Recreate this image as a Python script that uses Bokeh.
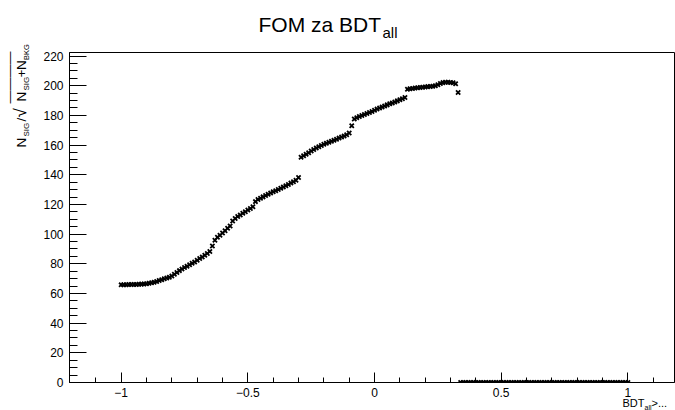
import math
from bokeh.plotting import figure
from bokeh.models import Range1d, FixedTicker, Label
from bokeh.layouts import column
from bokeh.embed import file_html
from bokeh.resources import INLINE

# ---- data: FOM scan over BDT_all cut ----
cut_nonzero = [
    -1.00, -0.99, -0.98, -0.97, -0.96, -0.95, -0.94, -0.93, -0.92, -0.91,
    -0.90, -0.89, -0.88, -0.87, -0.86, -0.85, -0.84, -0.83, -0.82, -0.81,
    -0.80, -0.79, -0.78, -0.77, -0.76, -0.75, -0.74, -0.73, -0.72, -0.71,
    -0.70, -0.69, -0.68, -0.67, -0.66, -0.65, -0.64, -0.63, -0.62, -0.61,
    -0.60, -0.59, -0.58, -0.57, -0.56, -0.55, -0.54, -0.53, -0.52, -0.51,
    -0.50, -0.49, -0.48, -0.47, -0.46, -0.45, -0.44, -0.43, -0.42, -0.41,
    -0.40, -0.39, -0.38, -0.37, -0.36, -0.35, -0.34, -0.33, -0.32, -0.31,
    -0.30, -0.29, -0.28, -0.27, -0.26, -0.25, -0.24, -0.23, -0.22, -0.21,
    -0.20, -0.19, -0.18, -0.17, -0.16, -0.15, -0.14, -0.13, -0.12, -0.11,
    -0.10, -0.09, -0.08, -0.07, -0.06, -0.05, -0.04, -0.03, -0.02, -0.01,
    0.00, 0.01, 0.02, 0.03, 0.04, 0.05, 0.06, 0.07, 0.08, 0.09,
    0.10, 0.11, 0.12, 0.13, 0.14, 0.15, 0.16, 0.17, 0.18, 0.19,
    0.20, 0.21, 0.22, 0.23, 0.24, 0.25, 0.26, 0.27, 0.28, 0.29,
    0.30, 0.31, 0.32, 0.33,
]
fom_nonzero = [
    65.8, 65.9, 65.9, 66.0, 66.0, 66.1, 66.1, 66.2, 66.3, 66.4,
    66.6, 66.9, 67.2, 67.6, 68.1, 68.7, 69.3, 69.9, 70.4, 71.0,
    71.8, 72.9, 74.2, 75.4, 76.5, 77.5, 78.4, 79.3, 80.3, 81.2,
    82.4, 83.5, 84.6, 85.8, 87.0, 88.3, 92.0, 95.8, 97.9, 99.3,
    100.8, 102.3, 103.9, 105.5, 108.8, 110.6, 111.8, 112.9, 114.0, 115.1,
    116.2, 117.3, 118.5, 121.9, 123.3, 124.2, 125.1, 126.0, 126.9, 127.7,
    128.5, 129.3, 130.1, 130.9, 131.7, 132.6, 133.5, 134.4, 135.3, 136.3,
    138.2, 151.8, 152.8, 153.8, 154.9, 156.0, 157.0, 158.0, 158.9, 159.7,
    160.5, 161.2, 161.9, 162.6, 163.3, 164.0, 164.7, 165.4, 166.2, 167.0,
    168.2, 173.0, 177.6, 178.5, 179.2, 179.9, 180.6, 181.3, 182.0, 182.7,
    183.5, 184.3, 185.0, 185.7, 186.4, 187.1, 187.8, 188.4, 189.1, 189.8,
    190.5, 191.2, 192.0, 197.6, 197.9, 198.2, 198.4, 198.6, 198.8, 199.0,
    199.2, 199.4, 199.5, 199.7, 200.0, 200.6, 201.5, 202.1, 202.3, 202.4,
    202.2, 202.0, 201.4, 195.4,
]
cut_zero = [
    0.34, 0.35, 0.36, 0.37, 0.38, 0.39, 0.40, 0.41, 0.42, 0.43,
    0.44, 0.45, 0.46, 0.47, 0.48, 0.49, 0.50, 0.51, 0.52, 0.53,
    0.54, 0.55, 0.56, 0.57, 0.58, 0.59, 0.60, 0.61, 0.62, 0.63,
    0.64, 0.65, 0.66, 0.67, 0.68, 0.69, 0.70, 0.71, 0.72, 0.73,
    0.74, 0.75, 0.76, 0.77, 0.78, 0.79, 0.80, 0.81, 0.82, 0.83,
    0.84, 0.85, 0.86, 0.87, 0.88, 0.89, 0.90, 0.91, 0.92, 0.93,
    0.94, 0.95, 0.96, 0.97, 0.98, 0.99, 1.00,
]
fom_zero = [0.0] * len(cut_zero)

x_major = [-1.0, -0.5, 0.0, 0.5, 1.0]
x_major_labels = ["\u22121", "\u22120.5", "0", "0.5", "1"]
x_minor = [-1.1, -0.9, -0.8, -0.7, -0.6, -0.4, -0.3, -0.2, -0.1,
           0.1, 0.2, 0.3, 0.4, 0.6, 0.7, 0.8, 0.9, 1.1]
y_major = [0, 20, 40, 60, 80, 100, 120, 140, 160, 180, 200, 220]
y_minor = [5, 10, 15, 25, 30, 35, 45, 50, 55, 65, 70, 75, 85, 90, 95,
           105, 110, 115, 125, 130, 135, 145, 150, 155, 165, 170, 175,
           185, 190, 195, 205, 210, 215]

# ---- layout (pixels of the 675x410 page) ----
W, H = 675, 410
FL, FR, FT, FB = 69, 674, 52, 382
X0, X1 = -1.204, 1.184
Y0, Y1 = 0.0, 222.4
FONT = "Liberation Sans"
MID = 0.35   # baseline -> vertical text middle, in em

# main plot
p = figure(width=W, height=H, output_backend="svg", toolbar_location=None,
           x_range=Range1d(X0, X1), y_range=Range1d(Y0, Y1),
           min_border_left=FL, min_border_right=W - FR,
           min_border_top=FT, min_border_bottom=H - FB, title=None)
p.background_fill_color = "white"
p.border_fill_color = "white"
p.outline_line_color = "black"
p.outline_line_width = 1
p.grid.visible = False

p.xaxis.ticker = FixedTicker(ticks=x_major, minor_ticks=x_minor)
p.xaxis.major_label_overrides = {t: s for t, s in zip(x_major, x_major_labels)}
p.yaxis.ticker = FixedTicker(ticks=y_major, minor_ticks=y_minor)
p.yaxis.major_label_overrides = {t: str(t) for t in y_major}

for ax in (p.xaxis, p.yaxis):
    ax.axis_line_color = "black"
    ax.major_tick_line_color = "black"
    ax.minor_tick_line_color = "black"
    ax.major_tick_out = 0
    ax.minor_tick_out = 0
    ax.major_label_text_font = FONT
    ax.major_label_text_font_size = "12px"
    ax.major_label_text_color = "black"
p.xaxis.major_tick_in = 10
p.xaxis.minor_tick_in = 5
p.yaxis.major_tick_in = 17
p.yaxis.minor_tick_in = 8
p.xaxis.major_label_standoff = 5
p.yaxis.major_label_standoff = 6

p.scatter(cut_nonzero, fom_nonzero, marker="x", size=6, line_width=1.8,
          line_color="black")
p.scatter(cut_zero, fom_zero, marker="x", size=6, line_width=1.8,
          line_color="black")

# transparent overlay holding the composite texts (page pixel coordinates)
ov = figure(width=W, height=H, output_backend="svg", toolbar_location=None,
            x_range=Range1d(0, W), y_range=Range1d(H, 0), min_border=0,
            x_axis_location=None, y_axis_location=None, title=None)
ov.outline_line_color = None
ov.grid.visible = False
ov.background_fill_color = None
ov.border_fill_color = None


def lab(text, px, py, size):
    """horizontal text; (px, py) = start of the baseline"""
    ov.add_layout(Label(x=px, y=py - MID * size, text=text, text_font=FONT,
                        text_font_size=f"{size}px", text_color="black",
                        text_align="left", text_baseline="middle"))


def vlab(text, bx, py, size):
    """text rotated 90 deg; baseline at x = bx, starting at y = py"""
    ov.add_layout(Label(x=bx - MID * size, y=py, text=text, text_font=FONT,
                        text_font_size=f"{size}px", text_color="black",
                        text_align="left", text_baseline="middle",
                        angle=math.pi / 2))


# title
lab("FOM za BDT", 258, 31, 21)
lab("all", 382, 37.5, 15)

# y-axis title (rotated composite)
MB, SB = 26, 29
vlab("N", MB, 147, 13.5)
vlab("SIG", SB, 136, 8)
vlab("/", MB, 121, 13.5)
vlab("\u221a", MB, 117, 17)
vlab("N", MB, 101, 13.5)
vlab("SIG", SB, 90, 8)
vlab("+", MB, 77, 13.5)
vlab("N", MB, 69.5, 13.5)
vlab("BKG", SB, 59.5, 7.5)
vlab("\u2014\u2014\u2014\u2014", 14, 103, 13)

# x-axis title
lab("BDT", 622, 406, 11)
lab("all", 644, 409, 7)
lab(">...", 651, 406, 11)

wrap = column(ov, margin=(-H, 0, 0, 0))
layout = column(p, wrap)
open("out.html", "w").write(file_html(layout, INLINE))
